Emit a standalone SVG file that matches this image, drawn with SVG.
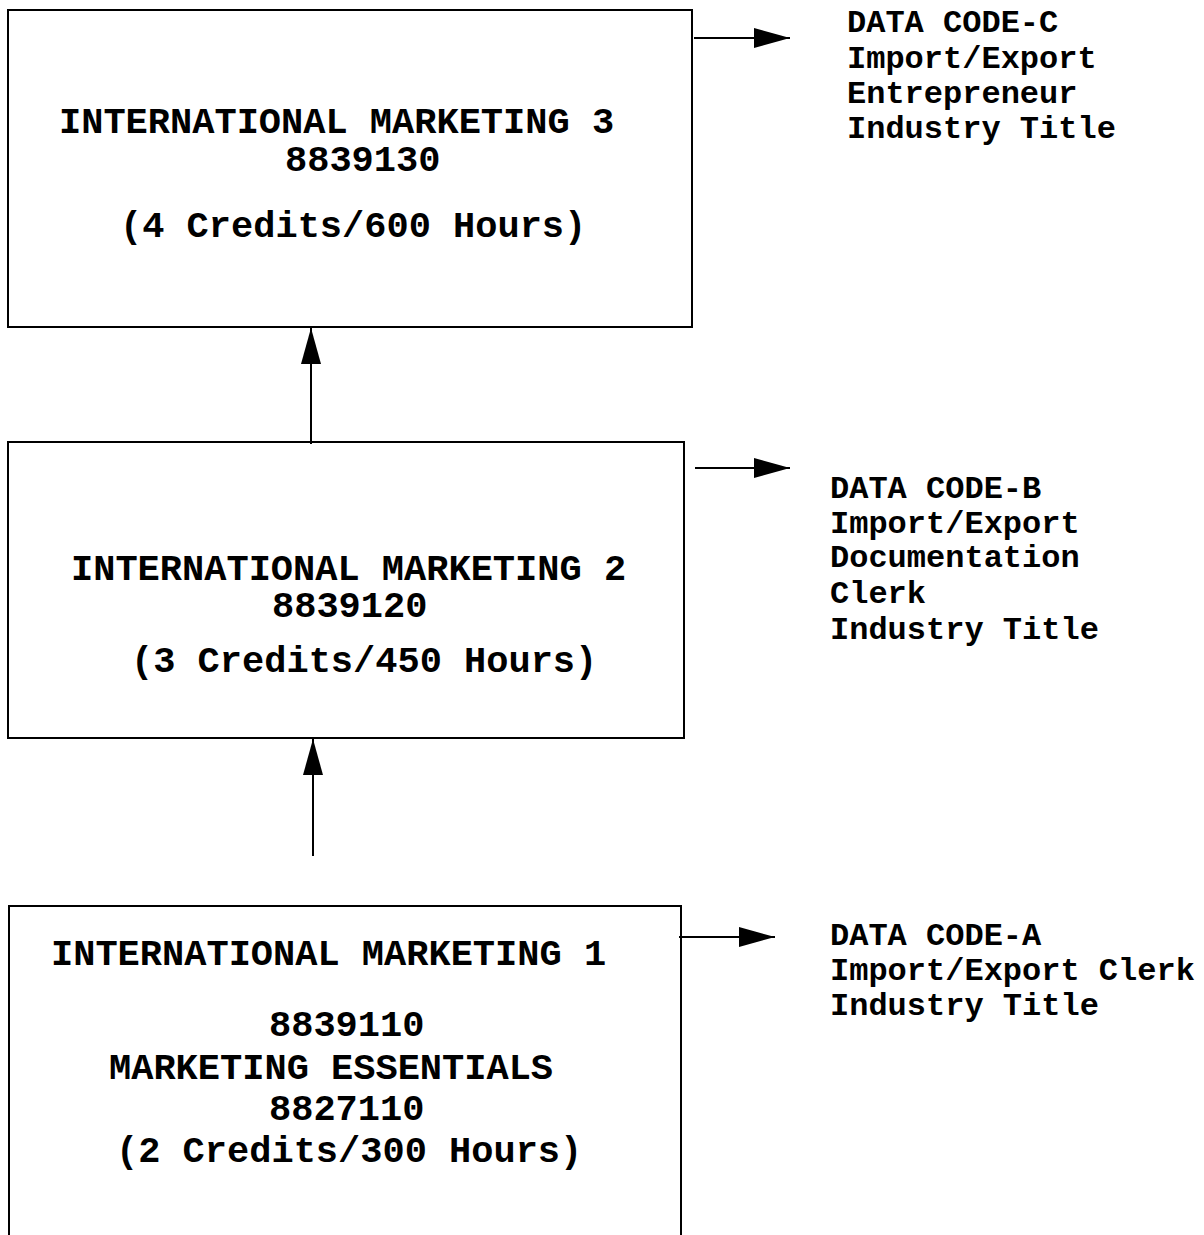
<svg xmlns="http://www.w3.org/2000/svg" width="1204" height="1235" viewBox="0 0 1204 1235">
  <style>
    .box { fill: #ffffff; stroke: #000000; stroke-width: 2; }
    .title { font-family: "Liberation Mono", "Courier New", monospace; font-weight: bold; font-size: 37px; fill: #000000; }
    .side { font-family: "Liberation Mono", "Courier New", monospace; font-weight: bold; font-size: 32px; fill: #000000; }
    .conn { stroke: #000000; stroke-width: 2; fill: none; }
  </style>
  <defs>
    <marker id="head" viewBox="0 0 36 20" refX="36" refY="10" markerWidth="36" markerHeight="20" markerUnits="userSpaceOnUse" orient="auto">
      <path d="M0,0 L36,10 L0,20 Z" fill="#000000"/>
    </marker>
  </defs>
  <rect width="1204" height="1235" fill="#ffffff"/>

  <!-- Level 3 course -->
  <g id="node-im3">
    <rect class="box" x="8" y="10" width="684" height="317"/>
    <text class="title" x="59" y="133">INTERNATIONAL MARKETING 3</text>
    <text class="title" x="285" y="171">8839130</text>
    <text class="title" x="120" y="237">(4 Credits/600 Hours)</text>
  </g>

  <!-- Level 2 course -->
  <g id="node-im2">
    <rect class="box" x="8" y="442" width="676" height="296"/>
    <text class="title" x="71" y="580">INTERNATIONAL MARKETING 2</text>
    <text class="title" x="272" y="617">8839120</text>
    <text class="title" x="131" y="672">(3 Credits/450 Hours)</text>
  </g>

  <!-- Level 1 course (runs off the page bottom) -->
  <g id="node-im1">
    <rect class="box" x="9" y="906" width="672" height="360"/>
    <text class="title" x="51" y="965">INTERNATIONAL MARKETING 1</text>
    <text class="title" x="269" y="1036">8839110</text>
    <text class="title" x="109" y="1079">MARKETING ESSENTIALS</text>
    <text class="title" x="269" y="1120">8827110</text>
    <text class="title" x="116" y="1162">(2 Credits/300 Hours)</text>
  </g>

  <!-- Industry titles -->
  <g id="node-code-c">
    <text class="side" x="847" y="32">DATA CODE-C</text>
    <text class="side" x="847" y="68">Import/Export</text>
    <text class="side" x="847" y="103">Entrepreneur</text>
    <text class="side" x="847" y="138">Industry Title</text>
  </g>
  <g id="node-code-b">
    <text class="side" x="830" y="498">DATA CODE-B</text>
    <text class="side" x="830" y="533">Import/Export</text>
    <text class="side" x="830" y="567">Documentation</text>
    <text class="side" x="830" y="603">Clerk</text>
    <text class="side" x="830" y="639">Industry Title</text>
  </g>
  <g id="node-code-a">
    <text class="side" x="830" y="945">DATA CODE-A</text>
    <text class="side" x="830" y="980">Import/Export Clerk</text>
    <text class="side" x="830" y="1015">Industry Title</text>
  </g>

  <!-- Connectors -->
  <g id="connectors">
    <line class="conn" x1="311" y1="444" x2="311" y2="328" marker-end="url(#head)"/>
    <line class="conn" x1="313" y1="856" x2="313" y2="739" marker-end="url(#head)"/>
    <line class="conn" x1="694" y1="38" x2="790" y2="38" marker-end="url(#head)"/>
    <line class="conn" x1="695" y1="468" x2="790" y2="468" marker-end="url(#head)"/>
    <line class="conn" x1="679" y1="937" x2="775" y2="937" marker-end="url(#head)"/>
  </g>
</svg>
